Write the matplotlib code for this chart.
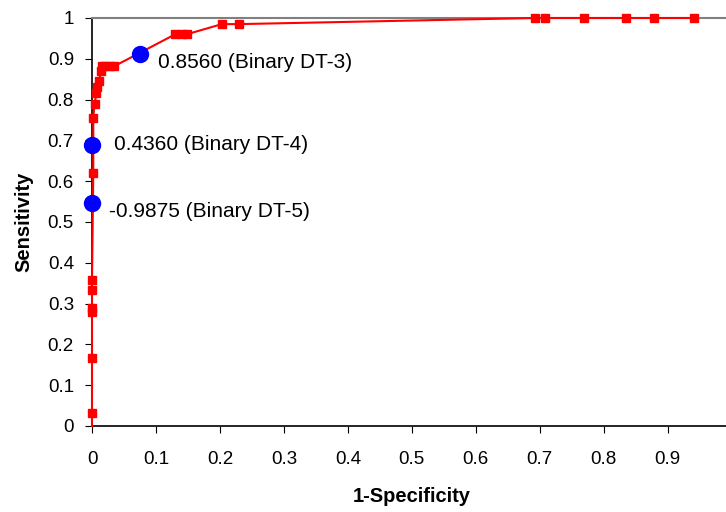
import matplotlib.pyplot as plt
import numpy as np

# === Data ===
fpr = [0.0, 0.0, 0.0, 0.0, 0.0, 0.0, 0.0, 0.002, 0.002, 0.004, 0.007, 0.008,
       0.011, 0.014, 0.016, 0.021, 0.028, 0.035, 0.130, 0.140, 0.148, 0.203,
       0.230, 0.692, 0.708, 0.770, 0.835, 0.879, 0.941]
tpr = [0.0, 0.031, 0.167, 0.280, 0.290, 0.333, 0.358, 0.620, 0.755, 0.790,
       0.815, 0.830, 0.845, 0.870, 0.882, 0.882, 0.882, 0.882, 0.960, 0.960,
       0.960, 0.985, 0.985, 1.0, 1.0, 1.0, 1.0, 1.0, 1.0]

cut_fpr = [0.0755, 0.0, 0.0]
cut_tpr = [0.912, 0.689, 0.547]
cut_labels = ["0.8560 (Binary DT-3)", "0.4360 (Binary DT-4)", "-0.9875 (Binary DT-5)"]
label_offsets = [(13, -6), (16, 0), (12, -6)]

ticks = np.round(np.arange(0, 1.01, 0.1), 1)
tick_labels = ["0"] + [f"{t:.1f}" for t in ticks[1:-1]] + ["1"]

plt.rcParams['font.family'] = ['Liberation Sans', 'DejaVu Sans']

fig = plt.figure(figsize=(7.26, 5.12), dpi=100)
ax = fig.add_axes([92 / 726, 86 / 512, 639.6 / 726, 408 / 512])

# === ROC curve ===
ax.plot(fpr, tpr, color="#ff0000", lw=1.5, marker="s", ms=5.5,
        markevery=slice(1, None), clip_on=False, zorder=3)

# === Cut-off points ===
ax.plot(cut_fpr, cut_tpr, "o", color="#0000ff", ms=11.5, clip_on=False, zorder=4)
for xv, yv, lab, off in zip(cut_fpr, cut_tpr, cut_labels, label_offsets):
    ax.annotate(lab, (xv, yv), xytext=off, textcoords="offset points",
                ha="left", va="center", fontsize=15)

# === Formatting ===
ax.set_xlim(0, 1)
ax.set_ylim(0, 1)
ax.set_xticks(ticks)
ax.set_xticklabels(tick_labels, fontsize=13.5)
ax.set_yticks(ticks)
ax.set_yticklabels(tick_labels, fontsize=13.5)
ax.tick_params(axis="x", length=5, pad=13, direction="out")
ax.tick_params(axis="y", length=5, pad=8, direction="out")

ax.set_xlabel("1-Specificity", fontsize=14.5, fontweight="bold", labelpad=14)
ax.set_ylabel("Sensitivity", fontsize=14.5, fontweight="bold", labelpad=10)

ax.spines["left"].set_color("black")
ax.spines["bottom"].set_color("black")
ax.spines["left"].set_linewidth(1.2)
ax.spines["bottom"].set_linewidth(1.2)
ax.spines["top"].set_color("#808080")
ax.spines["top"].set_linewidth(1.5)
ax.spines["right"].set_visible(False)

fig.savefig("out.png", dpi=100)
